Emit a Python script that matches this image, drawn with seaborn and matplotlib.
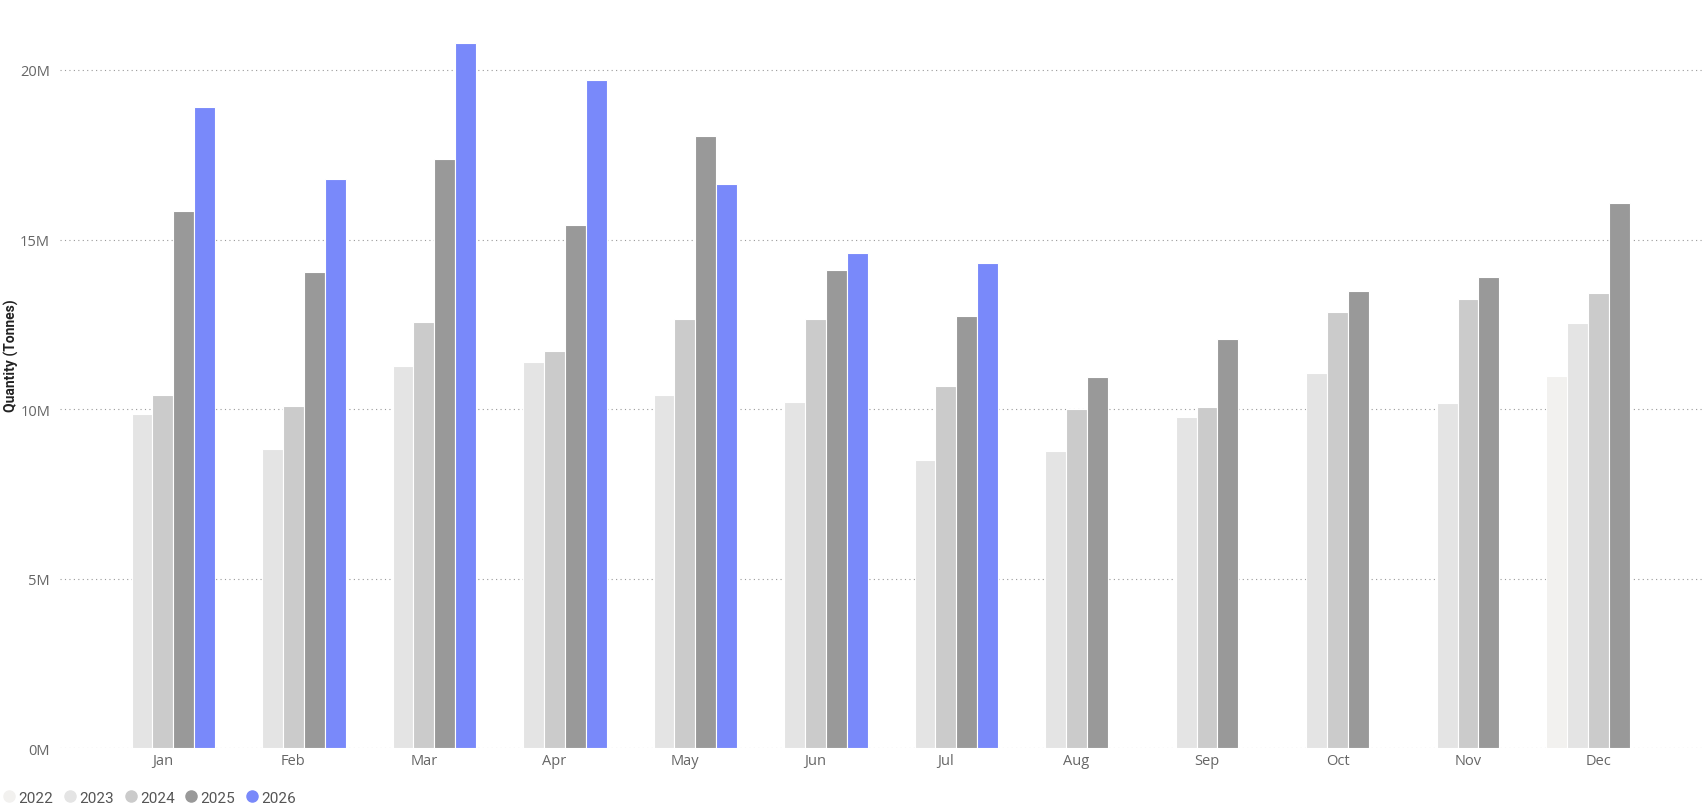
import pandas as pd
import numpy as np
import matplotlib
matplotlib.use("Agg")
import matplotlib.pyplot as plt
from matplotlib.lines import Line2D
from matplotlib.ticker import FuncFormatter
import seaborn as sns

months = ["Jan", "Feb", "Mar", "Apr", "May", "Jun", "Jul", "Aug", "Sep", "Oct", "Nov", "Dec"]
years = ["2022", "2023", "2024", "2025", "2026"]

# quantities in millions of tonnes, None = no data
q2022 = [None, None, None, None, None, None, None, None, None, None, None, 10.98]
q2023 = [9.86, 8.83, 11.27, 11.40, 10.43, 10.21, 8.51, 8.76, 9.76, 11.08, 10.18, 12.55]
q2024 = [10.43, 10.08, 12.58, 11.72, 12.65, 12.65, 10.69, 10.02, 10.05, 12.87, 13.26, 13.42]
q2025 = [15.83, 14.03, 17.37, 15.44, 18.04, 14.09, 12.74, 10.95, 12.07, 13.48, 13.90, 16.08]
q2026 = [18.91, 16.79, 20.80, 19.71, 16.63, 14.61, 14.32, None, None, None, None, None]

colors = ["#F2F1EF", "#E4E4E4", "#CBCBCB", "#999999", "#7989FA"]

rows = []
for yr, vals in zip(years, [q2022, q2023, q2024, q2025, q2026]):
    for m, v in zip(months, vals):
        rows.append({"Month": m, "Year": yr, "Qty": np.nan if v is None else v * 1e6})
df = pd.DataFrame(rows)

sns.set_style("white")
plt.rcParams['font.family'] = ['Open Sans', 'DejaVu Sans']

fig = plt.figure(figsize=(17.08, 8.12), dpi=100)
ax = fig.add_axes([0.035, 0.077, 0.962, 0.89])

sns.barplot(data=df, x="Month", y="Qty", hue="Year", order=months, hue_order=years,
            palette=colors, saturation=1, width=0.8, dodge=True, errorbar=None,
            edgecolor="white", linewidth=0.8, legend=False, ax=ax)

ax.set_xlim(-0.79, 11.8)
ax.set_ylim(0, 21.3e6)
ax.set_yticks([0, 5e6, 10e6, 15e6, 20e6])
ax.yaxis.set_major_formatter(FuncFormatter(lambda v, p: f"{v/1e6:.0f}M"))
ax.grid(axis="y", linestyle=(0, (1, 3)), color="#9a9a9a", linewidth=0.8)
ax.set_axisbelow(True)
for s in ax.spines.values():
    s.set_visible(False)
ax.tick_params(axis="both", length=0, labelsize=10.5, labelcolor="#666666")
ax.tick_params(axis="y", pad=7)
ax.set_xlabel("")
ax.set_ylabel("Quantity (Tonnes)", fontsize=10, fontweight="bold", color="#222222",
              family=["Roboto", "DejaVu Sans"])
ax.yaxis.set_label_coords(-0.025, 0.545)

handles = [Line2D([], [], marker="o", linestyle="", markersize=8, color=c, label=y)
           for c, y in zip(colors, years)]
fig.legend(handles=handles, loc="lower left", bbox_to_anchor=(-0.008, -0.009), ncol=5,
           frameon=False, labelcolor="#555555", handletextpad=0.0,
           columnspacing=0.5, handlelength=1.2,
           prop={"family": ["Roboto", "DejaVu Sans"], "size": 11})

fig.savefig("out.png", dpi=100)
